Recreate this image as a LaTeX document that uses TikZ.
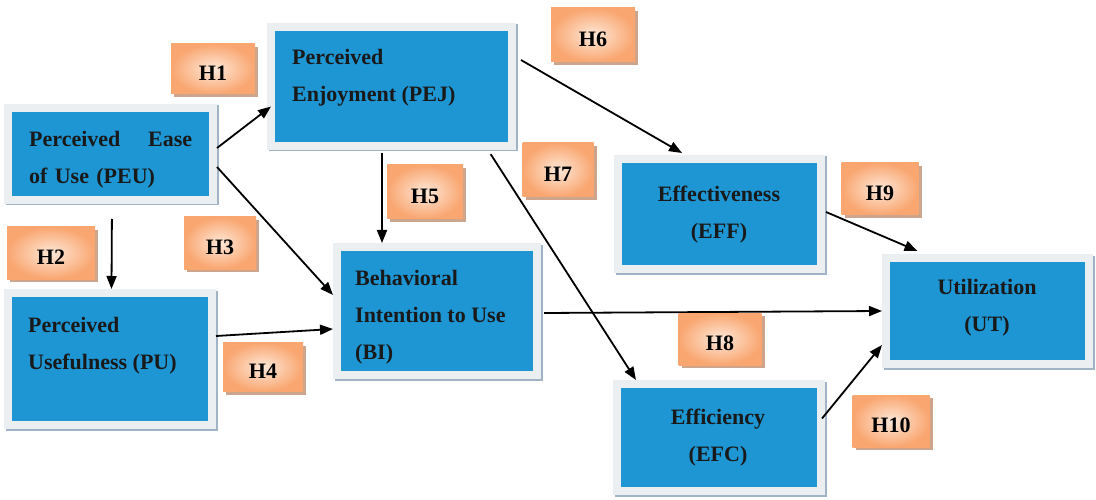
\documentclass[tikz,border=0pt]{standalone}
\usepackage{fontspec}
\setmainfont{Liberation Serif}
\usetikzlibrary{arrows.meta,shadows}
\definecolor{boxblue}{RGB}{30,150,212}
\definecolor{framegray}{RGB}{236,239,241}
\definecolor{frameedge}{RGB}{160,180,198}
\definecolor{hlight}{RGB}{254,232,216}
\definecolor{hdark}{RGB}{249,166,112}
\definecolor{hshade}{RGB}{205,165,140}
\begin{document}
\begin{tikzpicture}[x=1pt,y=-1pt,
  construct/.style={rectangle, fill=boxblue, draw=framegray, line width=8pt, inner sep=0pt,
    preaction={draw=frameedge, line width=8pt, transform canvas={shift={(1.5pt,-1.5pt)}}}},
  boxtext/.style={font=\fontsize{22}{37}\selectfont\bfseries, inner sep=0pt, text=black!90},
  hyp/.style={rectangle, inner sep=0pt, inner color=hlight, outer color=hdark,
    drop shadow={shadow xshift=3pt, shadow yshift=-3pt, fill=hshade, opacity=1},
    font=\fontsize{22}{26}\selectfont\bfseries, text height=23pt, text depth=0pt},
  link/.style={line width=1.8pt, -{Triangle[length=13pt,width=10pt]}}
]
\useasboundingbox[fill=white] (0,0) rectangle (1096,500);

% constructs
\node[construct, minimum width=205pt, minimum height=92pt]  (peu) at (110.5,154) {};
\node[construct, minimum width=241pt, minimum height=119pt] (pej) at (391.5,86.5) {};
\node[construct, minimum width=204pt, minimum height=132pt] (pu)  at (110,359) {};
\node[construct, minimum width=200pt, minimum height=128pt] (bi)  at (437,311) {};
\node[construct, minimum width=203pt, minimum height=110pt] (eff) at (719.5,214) {};
\node[construct, minimum width=203pt, minimum height=106pt] (ut)  at (987.5,311) {};
\node[construct, minimum width=204pt, minimum height=107pt] (efc) at (719,437.5) {};

% construct names
\node[boxtext, anchor=west, text width=163pt, align=left] (peutxt) at (29,159.5)
  {Perceived\hfill Ease\\of Use (PEU)};
\node[boxtext, anchor=west, align=left] (pejtxt) at (292,78) {Perceived\\Enjoyment (PEJ)};
\node[boxtext, anchor=west, align=left] (putxt) at (28,345.5) {Perceived\\Usefulness (PU)};
\node[boxtext, anchor=west, align=left] (bitxt) at (355,317.5) {Behavioral\\Intention to Use\\(BI)};
\node[boxtext, align=center] (efftxt) at (719,215) {Effectiveness\\(EFF)};
\node[boxtext, align=center] (uttxt) at (987,308) {Utilization\\(UT)};
\node[boxtext, align=center] (efctxt) at (718,438) {Efficiency\\(EFC)};

% hypothesised paths
\draw[link] ([yshift=6pt]peu.east) -- ([xshift=4pt,yshift=-20pt]pej.west);
\draw[link] ([yshift=-13pt]peu.east) -- ([yshift=16pt]bi.west);
\draw[link, shorten <=15pt] ([xshift=1.5pt]peu.south) -- ([xshift=1.5pt]pu.north);
\draw[link, shorten <=3pt] ([xshift=-9.5pt]pej.south) -- ([xshift=-55pt]bi.north);
\draw[link] ([xshift=5pt,yshift=26.5pt]pej.east) -- ([xshift=-37.5pt,yshift=2pt]eff.north);
\draw[link, shorten <=5pt] ([xshift=96.5pt]pej.south) -- ([xshift=-83pt]efc.north);
\draw[link] ([yshift=23pt]pu.east) -- ([yshift=-18pt]bi.west);
\draw[link] ([xshift=3pt,yshift=-2pt]bi.east) -- (ut.west);
\draw[link] ([xshift=1pt,yshift=2pt]eff.east) -- ([xshift=-70pt,yshift=3pt]ut.north);
\draw[link] ([xshift=-3pt,yshift=19pt]efc.east) -- ([yshift=-34pt]ut.west);

% hypothesis tags
\node[hyp, minimum width=84pt, minimum height=50pt] (h1)  at (213,69)  {H1};
\node[hyp, minimum width=88pt, minimum height=52pt] (h2)  at (51,253)  {H2};
\node[hyp, minimum width=72pt, minimum height=52pt] (h3)  at (220,243) {H3};
\node[hyp, minimum width=80pt, minimum height=49pt] (h4)  at (263,367) {H4};
\node[hyp, minimum width=76pt, minimum height=54pt] (h5)  at (425,192) {H5};
\node[hyp, minimum width=84pt, minimum height=54pt] (h6)  at (593,35)  {H6};
\node[hyp, minimum width=71pt, minimum height=54pt] (h7)  at (558,170) {H7};
\node[hyp, minimum width=83pt, minimum height=52pt] (h8)  at (720,339) {H8};
\node[hyp, minimum width=77pt, minimum height=52pt] (h9)  at (880,189) {H9};
\node[hyp, minimum width=77pt, minimum height=52pt] (h10) at (891,421) {H10};
\end{tikzpicture}
\end{document}
